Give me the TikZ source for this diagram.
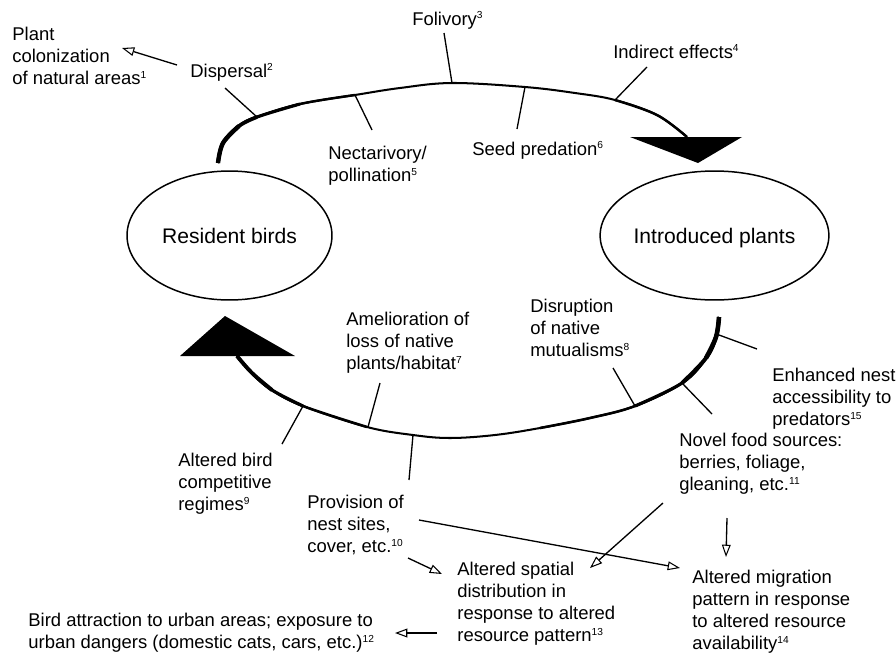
\documentclass[tikz,border=0pt]{standalone}
\usepackage{fontspec}
\setmainfont{Liberation Sans}
\usetikzlibrary{arrows.meta,shapes.geometric}
\newcommand{\sps}[1]{\raisebox{0.33em}{\fontsize{5.8}{6}\selectfont #1}}
\begin{document}
\begin{tikzpicture}[x=0.02cm,y=-0.02cm,
  lbl/.style={anchor=north west,inner sep=0,align=left,font=\fontsize{10.5}{12.47}\selectfont},
  lblb/.style={anchor=base west,inner sep=0,font=\fontsize{10.5}{12.47}\selectfont},
  tickline/.style={line width=0.75pt},
  arr/.style={line width=0.75pt,-{Triangle[open,length=7pt,width=5pt,line width=0.6pt]}},
  oval/.style={ellipse,draw,line width=0.85pt,minimum width=4.1cm,minimum height=2.58cm,inner sep=0,text depth=0pt,font=\fontsize{12}{14}\selectfont},
  loopline/.style={line width=1.15pt},
  headfill/.style={fill=black}]
\useasboundingbox (0,0) rectangle (896,653);

% ellipses
\node[oval] (birds) at (229.5,235.5) {Resident birds};
\node[oval] (plants) at (714.5,235.5) {Introduced plants};

% top arc (birds -> plants)
\draw[loopline] plot[smooth,tension=0.6] coordinates {(218,163) (223,143) (239,126) (257,117) (300,104) (355,95) (400,88) (452,83) (525,87) (575,93) (615,100) (657,115) (687,137)};
\draw[line width=1.4pt] plot[smooth,tension=0.6] coordinates {(218,163) (223,143) (239,126) (257,117) (300,104) (355,95)};
\draw[line width=1.75pt] plot[smooth,tension=0.6] coordinates {(218,163) (223,143) (239,126) (257,117) (300,104)};
\draw[line width=2.1pt] plot[smooth,tension=0.6] coordinates {(218,163) (223,143) (239,126) (257,117)};
\draw[line width=2.5pt] plot[smooth,tension=0.6] coordinates {(218,163) (223,143) (239,126)};
\draw[line width=1.4pt] plot[smooth,tension=0.6] coordinates {(615,100) (657,115) (687,137)};
\fill[headfill] (630,137) -- (742,137) -- (698,163) -- cycle;

% bottom arc (plants -> birds)
\draw[loopline] plot[smooth,tension=0.6] coordinates {(237,356) (252,373) (272,390) (303,406) (367,427) (413,435) (450,438) (495,435) (540,428) (590,418) (635,406) (682,383) (706,358) (716,337) (719,317)};
\draw[line width=1.45pt] plot[smooth,tension=0.6] coordinates {(540,428) (590,418) (635,406) (682,383) (706,358) (716,337) (719,317)};
\draw[line width=1.8pt] plot[smooth,tension=0.6] coordinates {(635,406) (682,383) (706,358) (716,337) (719,317)};
\draw[line width=2.2pt] plot[smooth,tension=0.6] coordinates {(682,383) (706,358) (716,337) (719,317)};
\draw[line width=2.6pt] plot[smooth,tension=0.6] coordinates {(706,358) (716,337) (719,317)};
\draw[line width=1.45pt] plot[smooth,tension=0.6] coordinates {(237,356) (252,373) (272,390) (303,406) (367,427)};
\draw[line width=1.8pt] plot[smooth,tension=0.6] coordinates {(237,356) (252,373) (272,390) (303,406)};
\draw[line width=2.2pt] plot[smooth,tension=0.6] coordinates {(237,356) (252,373) (272,390)};
\fill[headfill] (180,356) -- (295,356) -- (225,316) -- cycle;

% labels
\node[lbl] (colon) at (12,27) {Plant\\colonization\\of natural areas\sps{1}};
\node[lblb] (disp) at (190,77) {Dispersal\sps{2}};
\node[lblb] (foli) at (412,25) {Folivory\sps{3}};
\node[lblb] (indir) at (613,58) {Indirect effects\sps{4}};
\node[lbl] (nect) at (328,145.5) {Nectarivory/\\pollination\sps{5}};
\node[lblb] (seed) at (472,155) {Seed predation\sps{6}};
\node[lbl] (amel) at (346,312) {Amelioration of\\loss of native\\plants/habitat\sps{7}};
\node[lbl] (disr) at (530,299) {Disruption\\of native\\mutualisms\sps{8}};
\node[lbl] (enh) at (772,368) {Enhanced nest\\accessibility to\\predators\sps{15}};
\node[lbl] (novel) at (679,433) {Novel food sources:\\berries, foliage,\\gleaning, etc.\sps{11}};
\node[lbl] (comp) at (178,453) {Altered bird\\competitive\\regimes\sps{9}};
\node[lbl] (prov) at (307,495) {Provision of\\nest sites,\\cover, etc.\sps{10}};
\node[lbl] (spat) at (457,562) {Altered spatial\\distribution in\\response to altered\\resource pattern\sps{13}};
\node[lbl] (migr) at (692,570) {Altered migration\\pattern in response\\to altered resource\\availability\sps{14}};
\node[lbl] (urban) at (28,613) {Bird attraction to urban areas; exposure to\\urban dangers (domestic cats, cars, etc.)\sps{12}};

% tick connectors
\coordinate (k1a) at (257,117); \coordinate (k1b) at (225,88);
\coordinate (k2a) at (452,83);  \coordinate (k2b) at (444,33);
\coordinate (k3a) at (355,95);  \coordinate (k3b) at (372,130);
\coordinate (k4a) at (525,87);  \coordinate (k4b) at (517,129);
\coordinate (k5a) at (615,100); \coordinate (k5b) at (647,67);
\coordinate (k6a) at (303,406); \coordinate (k6b) at (282,444);
\coordinate (k7a) at (368,427); \coordinate (k7b) at (380,383);
\coordinate (k8a) at (413,435); \coordinate (k8b) at (409,480);
\coordinate (k9a) at (635,406); \coordinate (k9b) at (613,368);
\coordinate (k10a) at (682,383); \coordinate (k10b) at (712,414);
\coordinate (k11a) at (719,335); \coordinate (k11b) at (757,349);
\foreach \i in {1,...,11} {\draw[tickline] (k\i a) -- (k\i b);}

% arrows
\coordinate (a1s) at (177,65);  \coordinate (a1e) at (122,48);
\coordinate (a2s) at (408,558); \coordinate (a2e) at (442,574);
\coordinate (a3s) at (419,520); \coordinate (a3e) at (680,568);
\coordinate (a4s) at (663,503); \coordinate (a4e) at (590,568);
\coordinate (a5s) at (727,518); \coordinate (a5e) at (726,557);
\coordinate (a6s) at (437,633); \coordinate (a6e) at (395,633);
\foreach \i in {1,...,6} {\draw[arr] (a\i s) -- (a\i e);}
\end{tikzpicture}
\end{document}
